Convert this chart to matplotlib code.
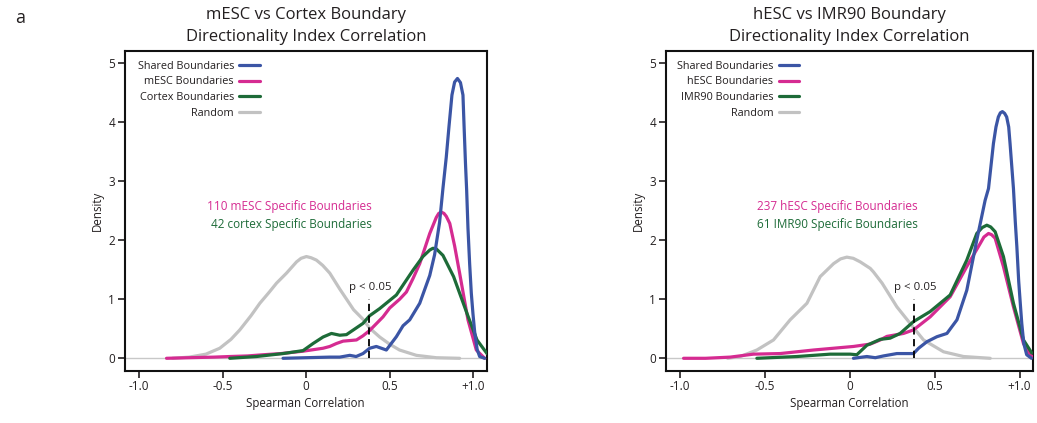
import matplotlib
matplotlib.use("Agg")
import matplotlib.pyplot as plt

# ---------------- data ----------------
# Left panel: mESC vs Cortex
m_random_x = [-0.80, -0.70, -0.60, -0.517, -0.45, -0.397, -0.33, -0.277, -0.22, -0.177, -0.117,
              -0.057, -0.03, 0.002, 0.03, 0.062, 0.10, 0.142, 0.202, 0.285, 0.341, 0.381, 0.441,
              0.50, 0.56, 0.661, 0.78, 0.92]
m_random_y = [0.00, 0.02, 0.07, 0.17, 0.32, 0.48, 0.72, 0.93, 1.12, 1.27, 1.44,
              1.63, 1.69, 1.72, 1.70, 1.66, 1.57, 1.44, 1.17, 0.82, 0.66, 0.51, 0.36,
              0.24, 0.14, 0.05, 0.01, 0.00]

m_specific_x = [-0.836, -0.70, -0.55, -0.457, -0.35, -0.257, -0.15, -0.018, 0.102, 0.142, 0.182,
                0.222, 0.302, 0.341, 0.381, 0.461, 0.501, 0.561, 0.601, 0.641, 0.681, 0.741,
                0.78, 0.795, 0.811, 0.826, 0.84, 0.861, 0.89, 0.92, 0.97, 1.02, 1.07]
m_specific_y = [0.00, 0.01, 0.02, 0.03, 0.04, 0.06, 0.08, 0.12, 0.17, 0.20, 0.25,
                0.29, 0.31, 0.38, 0.47, 0.70, 0.85, 1.00, 1.12, 1.35, 1.60, 2.11,
                2.38, 2.45, 2.47, 2.45, 2.40, 2.28, 1.90, 1.44, 0.65, 0.14, 0.00]

cortex_specific_x = [-0.457, -0.297, -0.138, -0.018, 0.042, 0.102, 0.152, 0.202, 0.242, 0.341,
                     0.381, 0.441, 0.541, 0.641, 0.70, 0.741, 0.76, 0.78, 0.82, 0.884, 0.964,
                     1.024, 1.084]
cortex_specific_y = [0.00, 0.03, 0.08, 0.13, 0.25, 0.36, 0.42, 0.39, 0.40, 0.59,
                     0.72, 0.84, 1.07, 1.49, 1.72, 1.83, 1.86, 1.85, 1.74, 1.38, 0.76,
                     0.31, 0.08]

m_shared_x = [-0.138, 0.0, 0.142, 0.202, 0.262, 0.30, 0.341, 0.381, 0.421, 0.481, 0.541, 0.581,
              0.621, 0.681, 0.741, 0.77, 0.80, 0.82, 0.84, 0.856, 0.874, 0.89, 0.907, 0.925,
              0.94, 0.947, 0.955, 0.962, 0.97, 0.98, 0.99, 1.00, 1.01, 1.025, 1.04, 1.07]
m_shared_y = [0.00, 0.01, 0.02, 0.02, 0.05, 0.03, 0.08, 0.17, 0.20, 0.14, 0.365, 0.55,
              0.65, 0.93, 1.40, 1.75, 2.30, 2.87, 3.40, 3.91, 4.45, 4.67, 4.73, 4.66,
              4.45, 3.90, 3.30, 2.85, 2.20, 1.60, 1.10, 0.75, 0.45, 0.15, 0.03, 0.00]

# Right panel: hESC vs IMR90
h_random_x = [-0.72, -0.646, -0.548, -0.45, -0.352, -0.253, -0.175, -0.096, -0.055, -0.018, 0.02,
              0.061, 0.12, 0.139, 0.19, 0.277, 0.355, 0.434, 0.552, 0.67, 0.827]
h_random_y = [0.00, 0.03, 0.14, 0.31, 0.65, 0.93, 1.38, 1.60, 1.68, 1.71, 1.69,
              1.63, 1.52, 1.46, 1.27, 0.87, 0.59, 0.31, 0.11, 0.03, 0.00]

h_specific_x = [-0.98, -0.85, -0.705, -0.568, -0.411, -0.214, 0.021, 0.12, 0.179, 0.218, 0.316,
                0.375, 0.473, 0.591, 0.689, 0.768, 0.79, 0.817, 0.835, 0.856, 0.905, 0.964,
                1.023, 1.062, 1.08]
h_specific_y = [0.00, 0.00, 0.02, 0.07, 0.08, 0.14, 0.20, 0.24, 0.31, 0.37, 0.42,
                0.48, 0.70, 1.04, 1.55, 1.94, 2.05, 2.11, 2.09, 2.03, 1.55, 0.87,
                0.25, 0.06, 0.02]

imr90_specific_x = [-0.548, -0.312, -0.116, 0.002, 0.041, 0.10, 0.179, 0.237, 0.296, 0.375, 0.473,
                    0.591, 0.689, 0.748, 0.78, 0.807, 0.83, 0.856, 0.905, 0.964, 1.023, 1.072]
imr90_specific_y = [0.00, 0.03, 0.07, 0.07, 0.06, 0.22, 0.32, 0.34, 0.42, 0.62, 0.79,
                    1.07, 1.66, 2.11, 2.21, 2.25, 2.22, 2.14, 1.72, 0.93, 0.31, 0.09]

h_shared_x = [0.021, 0.10, 0.15, 0.198, 0.277, 0.375, 0.405, 0.454, 0.513, 0.572, 0.631, 0.689,
              0.748, 0.797, 0.817, 0.846, 0.861, 0.875, 0.887, 0.899, 0.912, 0.924, 0.936,
              0.944, 0.964, 0.975, 0.984, 0.995, 1.005, 1.013, 1.025, 1.042, 1.07]
h_shared_y = [0.00, 0.03, 0.01, 0.04, 0.08, 0.08, 0.17, 0.28, 0.365, 0.42, 0.65, 1.15,
              2.00, 2.67, 2.87, 3.63, 3.91, 4.08, 4.15, 4.17, 4.14, 4.08, 3.91,
              3.63, 2.87, 2.30, 1.89, 1.30, 0.90, 0.59, 0.25, 0.06, 0.00]

p_threshold = 0.38
p_line_top = 1.0

x_ticks = [-1.0, -0.5, 0.0, 0.5, 1.0]
x_tick_labels = ["-1.0", "-0.5", "0", "0.5", "+1.0"]
y_ticks = [0, 1, 2, 3, 4, 5]

# ---------------- style ----------------
plt.rcParams['font.family'] = ['Open Sans', 'DejaVu Sans']
C_BLUE = "#3b55a5"
C_PINK = "#d52b91"
C_GREEN = "#1d6b38"
C_GRAY = "#c2c2c2"
C_TEXT = "#231f20"

fig = plt.figure(figsize=(10.37, 4.23), dpi=100)
ax1 = fig.add_axes([0.1205, 0.1236, 0.3488, 0.7566])
ax2 = fig.add_axes([0.642, 0.1236, 0.3546, 0.7566])


def panel(ax, title, rnd, spec, other, shared, labels, ann1, ann2, ann_x, ann_ha, leg_x):
    ax.axhline(0, color="#c8c8c8", lw=1.0, zorder=1)
    lr, = ax.plot(rnd[0], rnd[1], color=C_GRAY, lw=2.3, zorder=2,
                  solid_capstyle='round', solid_joinstyle='round')
    lp, = ax.plot(spec[0], spec[1], color=C_PINK, lw=2.3, zorder=3,
                  solid_capstyle='round', solid_joinstyle='round')
    lg, = ax.plot(other[0], other[1], color=C_GREEN, lw=2.3, zorder=4,
                  solid_capstyle='round', solid_joinstyle='round')
    lb, = ax.plot(shared[0], shared[1], color=C_BLUE, lw=2.3, zorder=5,
                  solid_capstyle='round', solid_joinstyle='round')
    ax.plot([p_threshold, p_threshold], [0, p_line_top], color="black", lw=1.3,
            dashes=(4, 2.5), zorder=6)
    ax.text(p_threshold + 0.005, p_line_top + 0.1, "p < 0.05", fontsize=8.2, color=C_TEXT,
            ha="center", va="bottom")
    ax.text(ann_x, 2.56, ann1, color=C_PINK, fontsize=8.5, ha=ann_ha, va="center")
    ax.text(ann_x, 2.26, ann2, color=C_GREEN, fontsize=8.5, ha=ann_ha, va="center")

    ax.set_xlim(-1.085, 1.082)
    ax.set_ylim(-0.21, 5.2)
    ax.set_xticks(x_ticks)
    ax.set_xticklabels(x_tick_labels)
    ax.set_yticks(y_ticks)
    ax.tick_params(direction="out", length=5, width=1.2, labelsize=8.5, pad=2,
                   colors=C_TEXT)
    for s in ax.spines.values():
        s.set_linewidth(1.5)
        s.set_color("#111111")
    ax.set_xlabel("Spearman Correlation", fontsize=8.3, color=C_TEXT)
    ax.set_ylabel("Density", fontsize=8.3, color=C_TEXT)
    ax.xaxis.set_label_coords(0.5, -0.082)
    ax.yaxis.set_label_coords(-0.058, 0.5)
    ax.set_title(title, fontsize=12, color=C_TEXT, pad=7.2, linespacing=1.45)

    leg = ax.legend([lb, lp, lg, lr], labels, loc="upper left",
                    bbox_to_anchor=(leg_x, 0.968), frameon=False, markerfirst=False,
                    fontsize=7.8, handlelength=1.9, handletextpad=0.5, labelspacing=0.42,
                    borderpad=0, borderaxespad=0)
    for t in leg.get_texts():
        t.set_color(C_TEXT)


panel(ax1, "mESC vs Cortex Boundary\nDirectionality Index Correlation",
      (m_random_x, m_random_y), (m_specific_x, m_specific_y),
      (cortex_specific_x, cortex_specific_y), (m_shared_x, m_shared_y),
      ["Shared Boundaries", "mESC Boundaries", "Cortex Boundaries", "Random"],
      "110 mESC Specific Boundaries", "42 cortex Specific Boundaries", 0.392, "right", 0.035)

panel(ax2, "hESC vs IMR90 Boundary\nDirectionality Index Correlation",
      (h_random_x, h_random_y), (h_specific_x, h_specific_y),
      (imr90_specific_x, imr90_specific_y), (h_shared_x, h_shared_y),
      ["Shared Boundaries", "hESC Boundaries", "IMR90 Boundaries", "Random"],
      "237 hESC Specific Boundaries", "61 IMR90 Specific Boundaries", -0.074, "center", 0.030)

fig.text(20 / 1037, 1 - 18 / 423, "a", fontsize=13, color=C_TEXT, va="center", ha="center")

fig.savefig("out.png", dpi=100)
